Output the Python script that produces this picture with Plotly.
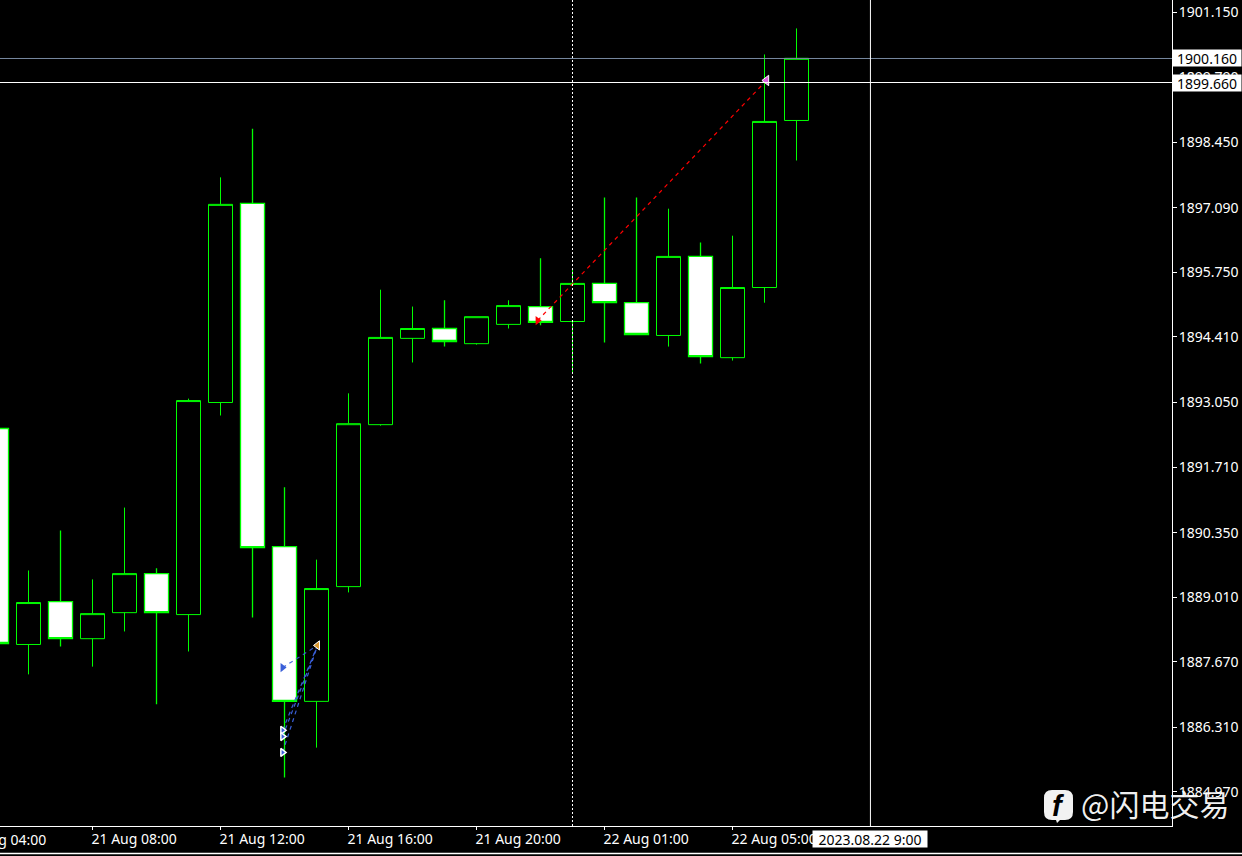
import plotly.graph_objects as go

W, H = 1242, 856
PW, PH = 1172, 826

# ---- data ----
candle_index = list(range(26))
open_prices = [1892.51, 1888.03, 1888.92, 1888.15, 1888.69, 1889.50, 1888.65, 1893.05, 1897.18, 1890.06, 1886.85, 1889.23, 1892.59,
               1894.38, 1894.585, 1894.27, 1894.67, 1895.04, 1894.73, 1895.52, 1895.12, 1894.44, 1896.08, 1893.98, 1895.435, 1898.90]
high_prices = [1892.60, 1889.565, 1890.395, 1889.38, 1890.87, 1889.61, 1893.13, 1897.72, 1898.73, 1891.29, 1889.79, 1893.24, 1895.39,
               1895.04, 1895.17, 1894.83, 1895.17, 1896.04, 1895.81, 1897.30, 1897.30, 1897.07, 1896.37, 1896.51, 1900.27, 1900.81]
low_prices = [1887.90, 1887.41, 1887.99, 1887.57, 1888.30, 1886.79, 1887.885, 1892.78, 1888.59, 1885.27, 1885.89, 1889.11, 1892.57,
              1893.88, 1894.21, 1894.25, 1894.585, 1894.65, 1893.65, 1894.295, 1894.46, 1894.21, 1893.86, 1893.92, 1895.12, 1898.07]
close_prices = [1888.05, 1888.90, 1888.15, 1888.67, 1889.50, 1888.69, 1893.09, 1897.16, 1890.04, 1886.85, 1889.19, 1892.61, 1894.40,
                1894.585, 1894.315, 1894.83, 1895.06, 1894.71, 1895.52, 1895.12, 1894.46, 1896.08, 1894.00, 1895.435, 1898.88, 1900.19]

price_ticks = [1901.15, 1899.79, 1898.45, 1897.09, 1895.75, 1894.41, 1893.05, 1891.71, 1890.35, 1889.01, 1887.67, 1886.31, 1884.97]
price_labels = ["1901.150", "1899.790", "1898.450", "1897.090", "1895.750", "1894.410", "1893.050", "1891.710", "1890.350",
                "1889.010", "1887.670", "1886.310", "1884.970"]
time_ticks = [3, 7, 11, 15, 19, 23]
time_labels = ["21 Aug 08:00", "21 Aug 12:00", "21 Aug 16:00", "21 Aug 20:00", "22 Aug 01:00", "22 Aug 05:00"]
off_left_label = "21 Aug 04:00"

blue_open_x = [8.94, 8.94, 8.94, 8.94]
blue_open_y = [1887.55, 1886.25, 1886.12, 1885.79]
blue_close_x = 10.03
blue_close_y = 1888.01
red_x = [16.91, 24.06]
red_y = [1894.75, 1899.73]

ask_line = 1900.186
ask_label = "1900.160"
cross_price = 1899.688
cross_label = "1899.660"
cross_x = 27.31
session_x = 18

# ---- layout ranges ----
X_RANGE = [0.109, 36.734]
Y_RANGE = [1884.2644, 1901.3994]
GREEN = "#00ff00"
FONT = "Noto Sans"


def px(x):
    return x / PW


def py(y):
    return 1 - y / PH


fig = go.Figure()
fig.add_trace(go.Candlestick(
    x=candle_index, open=open_prices, high=high_prices, low=low_prices, close=close_prices,
    increasing=dict(line=dict(color=GREEN, width=1), fillcolor="#000000"),
    decreasing=dict(line=dict(color=GREEN, width=1.3), fillcolor="#ffffff"),
    whiskerwidth=0, hoverinfo="skip", showlegend=False,
))

for yv, op in zip(blue_open_y, [0.9, 1, 1, 1]):
    fig.add_trace(go.Scatter(x=[blue_open_x[0], blue_close_x], y=[yv, blue_close_y], mode="lines",
                             line=dict(color="#3a5fd8", width=1.2, dash="4px,4px"), opacity=op,
                             hoverinfo="skip", showlegend=False))
fig.add_trace(go.Scatter(x=red_x, y=red_y, mode="lines", line=dict(color="#ff0000", width=1.2, dash="4px,4px"),
                         hoverinfo="skip", showlegend=False))
fig.add_trace(go.Scatter(x=blue_open_x[1:], y=blue_open_y[1:], mode="markers",
                         marker=dict(symbol="triangle-right", size=7, color="#3a5fd8", line=dict(color="#ffffff", width=1.5)),
                         hoverinfo="skip", showlegend=False))
fig.add_trace(go.Scatter(x=blue_open_x[:1], y=blue_open_y[:1], mode="markers",
                         marker=dict(symbol="triangle-right", size=8, color="#3a5fd8"),
                         hoverinfo="skip", showlegend=False))
fig.add_trace(go.Scatter(x=[blue_close_x], y=[blue_close_y], mode="markers",
                         marker=dict(symbol="triangle-left", size=8, color="#d8952a", line=dict(color="#ffffff", width=1)),
                         hoverinfo="skip", showlegend=False))
fig.add_trace(go.Scatter(x=red_x[:1], y=red_y[:1], mode="markers",
                         marker=dict(symbol="triangle-right", size=8, color="#ff0000"),
                         hoverinfo="skip", showlegend=False))
fig.add_trace(go.Scatter(x=red_x[1:], y=red_y[1:], mode="markers",
                         marker=dict(symbol="triangle-left", size=9, color="#e060e0", line=dict(color="#ffffff", width=1)),
                         hoverinfo="skip", showlegend=False))
fig.add_trace(go.Scatter(x=[cross_x], y=[cross_price], mode="markers",
                         marker=dict(symbol="square", size=2, color="#000000"), hoverinfo="skip", showlegend=False))

shapes = [
    dict(type="line", xref="paper", yref="y", x0=0, x1=1, y0=ask_line, y1=ask_line, line=dict(color="#77889f", width=1)),
    dict(type="line", xref="paper", yref="y", x0=0, x1=1, y0=cross_price, y1=cross_price, line=dict(color="#ffffff", width=1)),
    dict(type="line", xref="x", yref="paper", x0=cross_x, x1=cross_x, y0=0, y1=1, line=dict(color="#ffffff", width=1)),
    dict(type="line", xref="x", yref="paper", x0=session_x, x1=session_x, y0=0, y1=1,
         line=dict(color="#ffffff", width=1, dash="2px,2px")),
    dict(type="line", xref="paper", yref="paper", x0=0, x1=px(W), y0=py(853.5), y1=py(853.5), line=dict(color="#ffffff", width=1.5)),
]
# watermark logo: rounded square with a small tail
x0, x1, y0, y1, r = 1044, 1073, 790, 820, 8
logo = (f"M {px(x0 + r)} {py(y0)} L {px(x1 - r)} {py(y0)} Q {px(x1)} {py(y0)} {px(x1)} {py(y0 + r)} "
        f"L {px(x1)} {py(y1 - r)} Q {px(x1)} {py(y1)} {px(x1 - r)} {py(y1)} L {px(1060)} {py(y1)} L {px(1057)} {py(823)} "
        f"L {px(1056)} {py(y1)} L {px(x0 + r)} {py(y1)} Q {px(x0)} {py(y1)} {px(x0)} {py(y1 - r)} "
        f"L {px(x0)} {py(y0 + r)} Q {px(x0)} {py(y0)} {px(x0 + r)} {py(y0)} Z")
shapes.append(dict(type="path", xref="paper", yref="paper", path=logo, fillcolor="rgba(255,255,255,0.95)", line=dict(width=0), layer="above"))


def tag(text, y):
    return dict(text=text, xref="paper", yref="y", x=px(1172), y=y, xanchor="left", yanchor="middle", showarrow=False,
                bgcolor="#ffffff", font=dict(family=FONT, size=14, color="#000000"), width=68, height=16, align="center", borderpad=0)


annotations = [
    tag(ask_label, ask_line),
    tag(cross_label, cross_price),
    dict(text="2023.08.22 9:00", xref="paper", yref="paper", x=px(812), y=py(839.5), xanchor="left", yanchor="middle", showarrow=False,
         bgcolor="#ffffff", font=dict(family=FONT, size=14, color="#000000"), width=114, height=16, align="center", borderpad=0),
    dict(text=off_left_label, xref="paper", yref="paper", x=px(-41), y=py(839.5), xanchor="left", yanchor="middle", showarrow=False,
         font=dict(family=FONT, size=14, color="#ffffff")),
    dict(text="<b><i>f</i></b>", xref="paper", yref="paper", x=px(1058), y=py(806), xanchor="center", yanchor="middle", showarrow=False,
         font=dict(family="Liberation Sans", size=29, color="#000000")),
    dict(text="@闪电交易", xref="paper", yref="paper", x=px(1079), y=py(803), xanchor="left", yanchor="middle", showarrow=False,
         font=dict(family="Noto Sans CJK SC", size=30, color="rgba(255,255,255,0.95)")),
]

fig.update_layout(
    width=W, height=H, margin=dict(l=0, r=W - PW, t=0, b=H - PH), autosize=False,
    paper_bgcolor="#000000", plot_bgcolor="#000000", boxgap=0.25, boxgroupgap=0, showlegend=False, hovermode=False,
    shapes=shapes, annotations=annotations,
    font=dict(family=FONT, size=14, color="#ffffff"),
    xaxis=dict(range=X_RANGE, rangeslider=dict(visible=False), showgrid=False, zeroline=False,
               tickmode="array", tickvals=time_ticks, ticktext=time_labels, ticks="outside", ticklen=3, tickcolor="#ffffff", tickwidth=1,
               ticklabelposition="outside right", ticklabelshift=-2, showline=True, linecolor="#ffffff", linewidth=1,
               tickfont=dict(family=FONT, size=14, color="#ffffff")),
    yaxis=dict(range=Y_RANGE, side="right", showgrid=False, zeroline=False,
               tickmode="array", tickvals=price_ticks, ticktext=price_labels, ticks="outside", ticklen=4, tickcolor="#ffffff", tickwidth=1,
               ticklabelstandoff=-1, showline=True, linecolor="#ffffff", linewidth=1,
               tickfont=dict(family=FONT, size=14, color="#ffffff")),
)

fig.write_html("out.html", config=dict(displayModeBar=False),
               post_script="document.body.style.margin='0';document.body.style.overflow='hidden';document.body.style.background='#000';")
